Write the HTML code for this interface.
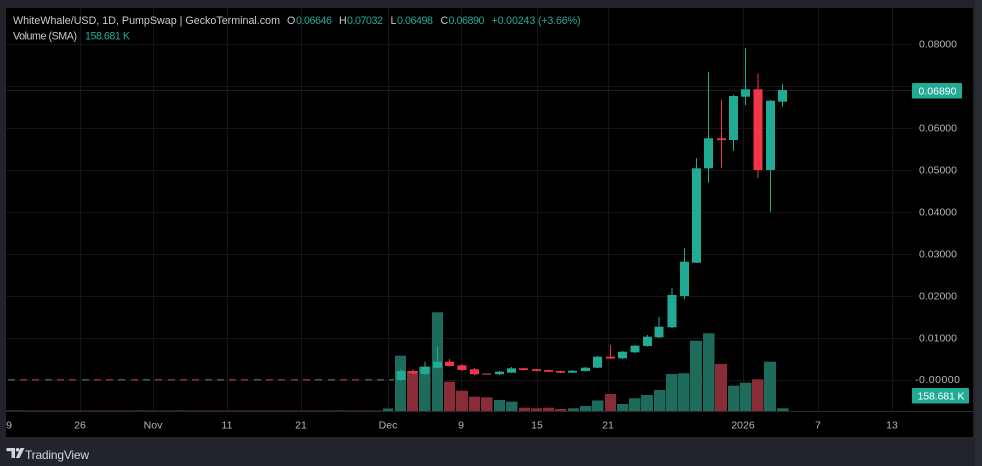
<!DOCTYPE html>
<html><head><meta charset="utf-8"><style>
html,body{margin:0;padding:0;background:#23232b;}
svg{display:block;}
text{font-family:"Liberation Sans",sans-serif;}
</style></head><body>
<svg width="982" height="466" viewBox="0 0 982 466" xmlns="http://www.w3.org/2000/svg">
<rect x="0" y="0" width="982" height="466" fill="#23232b"/>
<rect x="975" y="0" width="7" height="466" fill="#2a2a31"/>
<rect x="6" y="8" width="967" height="429" fill="#000"/>

<!-- grid -->
<g stroke="#151515" stroke-width="1">
<line x1="6" y1="44.5" x2="912" y2="44.5"/>
<line x1="6" y1="86.5" x2="912" y2="86.5"/>
<line x1="6" y1="128.5" x2="912" y2="128.5"/>
<line x1="6" y1="170.5" x2="912" y2="170.5"/>
<line x1="6" y1="212.5" x2="912" y2="212.5"/>
<line x1="6" y1="254.5" x2="912" y2="254.5"/>
<line x1="6" y1="296.5" x2="912" y2="296.5"/>
<line x1="6" y1="338.5" x2="912" y2="338.5"/>
<line x1="6" y1="380.5" x2="912" y2="380.5"/>
<line x1="80.5" y1="8" x2="80.5" y2="411"/>
<line x1="153.5" y1="8" x2="153.5" y2="411"/>
<line x1="227.5" y1="8" x2="227.5" y2="411"/>
<line x1="301.5" y1="8" x2="301.5" y2="411"/>
<line x1="388.5" y1="8" x2="388.5" y2="411"/>
<line x1="461.5" y1="8" x2="461.5" y2="411"/>
<line x1="537.5" y1="8" x2="537.5" y2="411"/>
<line x1="608.5" y1="8" x2="608.5" y2="411"/>
<line x1="743.5" y1="8" x2="743.5" y2="411"/>
<line x1="818.5" y1="8" x2="818.5" y2="411"/>
<line x1="892.5" y1="8" x2="892.5" y2="411"/>
</g>

<!-- price line -->
<line x1="6" y1="90.5" x2="912" y2="90.5" stroke="#1b201f" stroke-width="1"/>

<!-- left flat dashes (price) -->
<g>
<rect x="8" y="379" width="7" height="1.5" fill="#3c5a55"/>
<rect x="20" y="379" width="7" height="1.5" fill="#8c2c3a"/>
<rect x="32" y="379" width="7" height="1.5" fill="#8c2c3a"/>
<rect x="45" y="379" width="7" height="1.5" fill="#3c5a55"/>
<rect x="57" y="379" width="7" height="1.5" fill="#8c2c3a"/>
<rect x="69" y="379" width="7" height="1.5" fill="#8c2c3a"/>
<rect x="82" y="379" width="7" height="1.5" fill="#3c5a55"/>
<rect x="94" y="379" width="7" height="1.5" fill="#8c2c3a"/>
<rect x="106" y="379" width="7" height="1.5" fill="#8c2c3a"/>
<rect x="118" y="379" width="7" height="1.5" fill="#3c5a55"/>
<rect x="131" y="379" width="7" height="1.5" fill="#8c2c3a"/>
<rect x="143" y="379" width="7" height="1.5" fill="#3c5a55"/>
<rect x="155" y="379" width="7" height="1.5" fill="#8c2c3a"/>
<rect x="168" y="379" width="7" height="1.5" fill="#8c2c3a"/>
<rect x="180" y="379" width="7" height="1.5" fill="#8c2c3a"/>
<rect x="192" y="379" width="7" height="1.5" fill="#8c2c3a"/>
<rect x="205" y="379" width="7" height="1.5" fill="#3c5a55"/>
<rect x="217" y="379" width="7" height="1.5" fill="#3c5a55"/>
<rect x="229" y="379" width="7" height="1.5" fill="#8c2c3a"/>
<rect x="241" y="379" width="7" height="1.5" fill="#8c2c3a"/>
<rect x="254" y="379" width="7" height="1.5" fill="#3c5a55"/>
<rect x="266" y="379" width="7" height="1.5" fill="#8c2c3a"/>
<rect x="278" y="379" width="7" height="1.5" fill="#8c2c3a"/>
<rect x="291" y="379" width="7" height="1.5" fill="#8c2c3a"/>
<rect x="303" y="379" width="7" height="1.5" fill="#8c2c3a"/>
<rect x="315" y="379" width="7" height="1.5" fill="#3c5a55"/>
<rect x="328" y="379" width="7" height="1.5" fill="#3c5a55"/>
<rect x="340" y="379" width="7" height="1.5" fill="#8c2c3a"/>
<rect x="352" y="379" width="7" height="1.5" fill="#8c2c3a"/>
<rect x="365" y="379" width="7" height="1.5" fill="#3c5a55"/>
<rect x="377" y="379" width="7" height="1.5" fill="#3c5a55"/>
<rect x="389" y="379" width="5" height="1.5" fill="#3c5a55"/>
</g>
<!-- left flat volume line -->
<g>
<rect x="6" y="410.5" width="18" height="1.5" fill="#1f5a4e"/>
<rect x="24" y="410.5" width="24" height="1.5" fill="#6e2430"/>
<rect x="48" y="410.5" width="88" height="1.5" fill="#6e2430"/>
<rect x="136" y="410.5" width="14" height="1.5" fill="#1f5a4e"/>
<rect x="150" y="410.5" width="22" height="1.5" fill="#6e2430"/>
<rect x="172" y="410.5" width="12" height="1.5" fill="#1f5a4e"/>
<rect x="184" y="410.5" width="40" height="1.5" fill="#6e2430"/>
<rect x="224" y="410.5" width="50" height="1.5" fill="#6e2430"/>
<rect x="274" y="410.5" width="56" height="1.5" fill="#6e2430"/>
<rect x="330" y="410.5" width="14" height="1.5" fill="#1f5a4e"/>
<rect x="344" y="410.5" width="38" height="1.5" fill="#6e2430"/>
</g>

<!-- volume bars -->
<g>
<rect x="383" y="408.5" width="10" height="3" fill="#1f6b5b"/>
<rect x="395" y="355.7" width="11" height="55.8" fill="#1f6b5b"/>
<rect x="407" y="371" width="11" height="40.5" fill="#8a2c38"/>
<rect x="419" y="366.7" width="11.5" height="44.8" fill="#1f6b5b"/>
<rect x="432" y="312.3" width="11" height="99.2" fill="#1f6b5b"/>
<rect x="444" y="381.7" width="11" height="29.8" fill="#8a2c38"/>
<rect x="456" y="390.7" width="12" height="20.8" fill="#8a2c38"/>
<rect x="469" y="396.7" width="11" height="14.8" fill="#8a2c38"/>
<rect x="481" y="397.3" width="11.5" height="14.2" fill="#8a2c38"/>
<rect x="494" y="400" width="11" height="11.5" fill="#1f6b5b"/>
<rect x="506" y="401.7" width="11.5" height="9.8" fill="#1f6b5b"/>
<rect x="519" y="407.7" width="11" height="3.8" fill="#8a2c38"/>
<rect x="531" y="408.3" width="11" height="3.2" fill="#8a2c38"/>
<rect x="543" y="407.7" width="11" height="3.8" fill="#8a2c38"/>
<rect x="555" y="409" width="11.5" height="2.5" fill="#8a2c38"/>
<rect x="568" y="408.3" width="11" height="3.2" fill="#1f6b5b"/>
<rect x="580" y="406" width="11.5" height="5.5" fill="#1f6b5b"/>
<rect x="592" y="400.5" width="11.5" height="11" fill="#1f6b5b"/>
<rect x="605" y="394" width="11" height="17.5" fill="#8a2c38"/>
<rect x="617" y="404" width="11.5" height="7.5" fill="#1f6b5b"/>
<rect x="629" y="398.3" width="11.5" height="13.2" fill="#1f6b5b"/>
<rect x="641" y="395" width="12" height="16.5" fill="#1f6b5b"/>
<rect x="654" y="390" width="11.5" height="21.5" fill="#1f6b5b"/>
<rect x="666" y="374" width="11.5" height="37.5" fill="#1f6b5b"/>
<rect x="678" y="373.3" width="11.5" height="38.2" fill="#1f6b5b"/>
<rect x="690" y="340.7" width="12" height="70.8" fill="#1f6b5b"/>
<rect x="703" y="333.3" width="11.5" height="78.2" fill="#1f6b5b"/>
<rect x="715" y="364" width="12" height="47.5" fill="#8a2c38"/>
<rect x="728" y="385.7" width="11.5" height="25.8" fill="#1f6b5b"/>
<rect x="740" y="382.7" width="11.5" height="28.8" fill="#1f6b5b"/>
<rect x="752" y="379.3" width="11.5" height="32.2" fill="#8a2c38"/>
<rect x="764" y="361.7" width="12" height="49.8" fill="#1f6b5b"/>
<rect x="777" y="408.3" width="11.5" height="3.2" fill="#1f6b5b"/>
</g>

<!-- candles -->
<g stroke-width="1">
<g fill="#22ab94" stroke="#22ab94">
<line x1="401" y1="369" x2="401" y2="381"/><rect x="396.5" y="371" width="9" height="9" stroke="none"/>
<line x1="425" y1="362" x2="425" y2="375"/><rect x="420.5" y="366.7" width="9" height="7.3" stroke="none"/>
<line x1="437.5" y1="346.7" x2="437.5" y2="368.5"/><rect x="433" y="361.7" width="9" height="6" stroke="none"/>
<line x1="499.5" y1="371" x2="499.5" y2="375"/><rect x="495" y="371.7" width="9" height="2.5" stroke="none"/>
<line x1="511.5" y1="367" x2="511.5" y2="373"/><rect x="507" y="368.3" width="9" height="4.4" stroke="none"/>
<line x1="572.5" y1="370" x2="572.5" y2="373"/><rect x="568" y="370.7" width="9" height="2" stroke="none"/>
<line x1="585.5" y1="367" x2="585.5" y2="371.5"/><rect x="581" y="367.7" width="9" height="3.3" stroke="none"/>
<line x1="597.5" y1="356" x2="597.5" y2="368"/><rect x="593" y="356.7" width="9" height="11" stroke="none"/>
<line x1="622.5" y1="351" x2="622.5" y2="359"/><rect x="618" y="351.7" width="9" height="6.6" stroke="none"/>
<line x1="635" y1="345" x2="635" y2="353"/><rect x="630.5" y="345.7" width="9" height="6.6" stroke="none"/>
<line x1="647.5" y1="335" x2="647.5" y2="346.5"/><rect x="643" y="336.7" width="9" height="9.3" stroke="none"/>
<line x1="659" y1="316.7" x2="659" y2="338"/><rect x="654.5" y="326.7" width="9" height="10.6" stroke="none"/>
<line x1="672" y1="288.3" x2="672" y2="328"/><rect x="667.5" y="295" width="9" height="32.3" stroke="none"/>
<line x1="684.5" y1="248.3" x2="684.5" y2="299.3"/><rect x="680" y="261.7" width="9" height="34.3" stroke="none"/>
<line x1="696.5" y1="158.3" x2="696.5" y2="263"/><rect x="692" y="168.3" width="9" height="94.4" stroke="none"/>
<line x1="708.5" y1="71.7" x2="708.5" y2="182.7"/><rect x="704" y="138.3" width="9" height="30" stroke="none"/>
<line x1="733.5" y1="95" x2="733.5" y2="151"/><rect x="729" y="96" width="9" height="44" stroke="none"/>
<line x1="745.5" y1="48.3" x2="745.5" y2="105"/><rect x="741" y="89.3" width="9" height="7.4" stroke="none"/>
<line x1="770.5" y1="100" x2="770.5" y2="211.7"/><rect x="766" y="100.7" width="9" height="69.3" stroke="none"/>
<line x1="782.5" y1="84" x2="782.5" y2="106.7"/><rect x="778" y="90" width="9" height="11.7" stroke="none"/>
</g>
<g fill="#f23645" stroke="#f23645">
<line x1="413" y1="369" x2="413" y2="374.5"/><rect x="408.5" y="371" width="9" height="2.5" stroke="none"/>
<line x1="449.5" y1="359" x2="449.5" y2="366.5"/><rect x="445" y="361.7" width="9" height="4.3" stroke="none"/>
<line x1="462" y1="364" x2="462" y2="371"/><rect x="457.5" y="365.3" width="9" height="4.7" stroke="none"/>
<line x1="474.5" y1="368" x2="474.5" y2="375"/><rect x="470" y="369.3" width="9" height="5" stroke="none"/>
<rect x="482" y="373.3" width="9" height="1.7" fill="#8a2c38" stroke="none"/>
<line x1="523.5" y1="368" x2="523.5" y2="370.5"/><rect x="519" y="368.3" width="9" height="1.7" stroke="none"/>
<line x1="536.5" y1="369" x2="536.5" y2="371.5"/><rect x="532" y="369.3" width="9" height="1.7" stroke="none"/>
<line x1="548.5" y1="369.5" x2="548.5" y2="372"/><rect x="544" y="370" width="9" height="1.7" stroke="none"/>
<line x1="560.5" y1="370.5" x2="560.5" y2="373"/><rect x="556" y="371" width="9" height="1.7" stroke="none"/>
<line x1="610.5" y1="345" x2="610.5" y2="359"/><rect x="606" y="356.7" width="9" height="1.8" stroke="none"/>
<line x1="721.5" y1="100" x2="721.5" y2="168.3"/><rect x="717" y="138.3" width="9" height="1.8" stroke="none"/>
<line x1="758" y1="73.3" x2="758" y2="178.3"/><rect x="753.5" y="89.3" width="9" height="80.7" stroke="none"/>
</g>
</g>

<!-- time axis separator -->
<line x1="6" y1="411.5" x2="973" y2="411.5" stroke="#2b2b2b" stroke-width="1"/>

<!-- price axis labels -->
<g font-size="10.5" fill="#b2b5be">
<text x="919" y="47.5" textLength="38">0.08000</text>
<text x="919" y="131.5" textLength="38">0.06000</text>
<text x="919" y="173.5" textLength="38">0.05000</text>
<text x="919" y="215.5" textLength="38">0.04000</text>
<text x="919" y="257.5" textLength="38">0.03000</text>
<text x="919" y="299.5" textLength="38">0.02000</text>
<text x="919" y="341.5" textLength="38">0.01000</text>
<text x="915" y="383" textLength="45">-0.00000</text>
</g>
<rect x="912" y="83" width="50" height="15.5" fill="#22ab94" rx="1"/>
<text x="918.5" y="94.5" font-size="10.5" fill="#ffffff" textLength="38">0.06890</text>
<rect x="912" y="388" width="57" height="15.5" fill="#22ab94" rx="1"/>
<text x="917.5" y="399.5" font-size="10.5" fill="#ffffff" textLength="47">158.681 K</text>

<!-- time axis labels -->
<g font-size="10.5" fill="#b2b5be" text-anchor="middle">
<text x="9" y="428.5">9</text>
<text x="80" y="428.5">26</text>
<text x="153" y="428.5">Nov</text>
<text x="227" y="428.5">11</text>
<text x="301" y="428.5">21</text>
<text x="388" y="428.5">Dec</text>
<text x="461" y="428.5">9</text>
<text x="537" y="428.5">15</text>
<text x="608" y="428.5">21</text>
<text x="743" y="428.5">2026</text>
<text x="818" y="428.5">7</text>
<text x="892" y="428.5">13</text>
</g>

<!-- header -->
<g font-size="10.7">
<text x="13" y="24" fill="#c8cbd3" textLength="267">WhiteWhale/USD, 1D, PumpSwap | GeckoTerminal.com</text>
<text x="287" y="24" fill="#c8cbd3">O</text>
<text x="296" y="24" fill="#22ab94" textLength="36">0.06646</text>
<text x="339" y="24" fill="#c8cbd3">H</text>
<text x="347" y="24" fill="#22ab94" textLength="36">0.07032</text>
<text x="390.5" y="24" fill="#c8cbd3">L</text>
<text x="397" y="24" fill="#22ab94" textLength="36">0.06498</text>
<text x="440.5" y="24" fill="#c8cbd3">C</text>
<text x="448.5" y="24" fill="#22ab94" textLength="36">0.06890</text>
<text x="491.5" y="24" fill="#22ab94" textLength="89">+0.00243 (+3.66%)</text>
<text x="13" y="39.5" fill="#c8cbd3" textLength="64">Volume (SMA)</text>
<text x="85" y="39.5" fill="#22ab94" textLength="45">158.681 K</text>
</g>

<!-- TradingView footer -->
<g fill="#d1d4dc">
<rect x="6.5" y="448" width="8.5" height="3.2"/>
<rect x="11.5" y="448" width="3.5" height="10"/>
<circle cx="17.6" cy="449.8" r="1.8"/>
<polygon points="20.5,448 24.5,448 19.5,458 15.8,458"/>
</g>
<text x="25" y="459" font-size="12" fill="#d1d4dc" textLength="64">TradingView</text>
</svg>
</body></html>
